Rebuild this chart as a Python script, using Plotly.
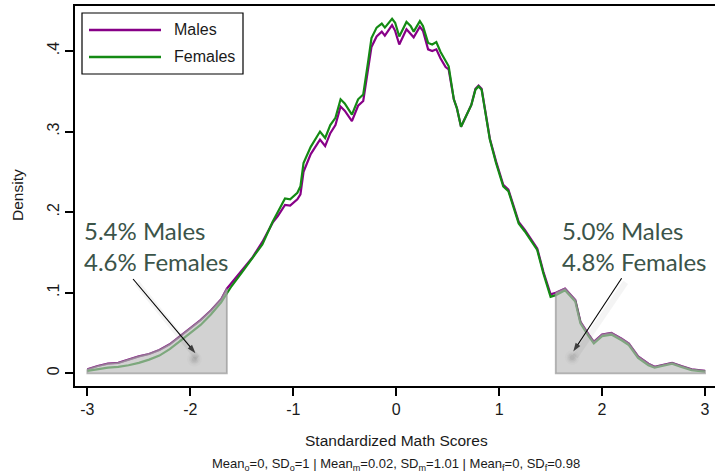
import plotly.graph_objects as go

# Kernel density of standardized math scores, by gender
score = [-3.0, -2.9, -2.8, -2.7, -2.6, -2.5, -2.4, -2.3, -2.2, -2.1,
         -2.0, -1.9, -1.8, -1.7, -1.645, -1.6, -1.5, -1.4, -1.3, -1.2,
         -1.15, -1.08, -1.03, -0.96, -0.93, -0.90, -0.83, -0.74, -0.69, -0.64,
         -0.59, -0.54, -0.50, -0.43, -0.37, -0.32, -0.27, -0.24, -0.19, -0.14,
         -0.11, -0.04, -0.01, 0.03, 0.10, 0.14, 0.17, 0.23, 0.26, 0.31,
         0.35, 0.39, 0.43, 0.48, 0.51, 0.56, 0.59, 0.63, 0.69, 0.73,
         0.77, 0.80, 0.83, 0.88, 0.91, 0.97, 1.04, 1.09, 1.14, 1.19,
         1.25, 1.30, 1.37, 1.43, 1.50, 1.55, 1.64, 1.74, 1.79, 1.87,
         1.92, 2.00, 2.09, 2.19, 2.26, 2.35, 2.45, 2.51, 2.68, 2.77,
         2.87, 3.00]

males = [0.005, 0.009, 0.012, 0.013, 0.017, 0.021, 0.024, 0.029, 0.036, 0.046,
         0.057, 0.066, 0.078, 0.092, 0.105, 0.112, 0.127, 0.143, 0.163, 0.187,
         0.195, 0.209, 0.208, 0.216, 0.222, 0.250, 0.272, 0.290, 0.282, 0.298,
         0.308, 0.331, 0.326, 0.313, 0.332, 0.338, 0.380, 0.405, 0.418, 0.424,
         0.419, 0.432, 0.425, 0.408, 0.427, 0.422, 0.417, 0.430, 0.425, 0.402,
         0.400, 0.402, 0.391, 0.380, 0.377, 0.340, 0.329, 0.306, 0.321, 0.333,
         0.353, 0.357, 0.353, 0.316, 0.291, 0.263, 0.234, 0.228, 0.209, 0.188,
         0.178, 0.168, 0.155, 0.126, 0.098, 0.100, 0.105, 0.091, 0.064, 0.048,
         0.039, 0.048, 0.050, 0.043, 0.037, 0.021, 0.012, 0.008, 0.013, 0.009,
         0.005, 0.003]

females = [0.003, 0.005, 0.007, 0.008, 0.010, 0.013, 0.017, 0.022, 0.030, 0.040,
           0.050, 0.060, 0.073, 0.088, 0.099, 0.108, 0.125, 0.143, 0.160, 0.188,
           0.200, 0.217, 0.216, 0.224, 0.232, 0.261, 0.281, 0.300, 0.292, 0.308,
           0.317, 0.340, 0.335, 0.321, 0.340, 0.346, 0.389, 0.416, 0.429, 0.434,
           0.429, 0.440, 0.435, 0.418, 0.436, 0.431, 0.424, 0.437, 0.431, 0.410,
           0.408, 0.411, 0.399, 0.387, 0.381, 0.340, 0.329, 0.306, 0.321, 0.333,
           0.352, 0.356, 0.352, 0.315, 0.290, 0.261, 0.232, 0.226, 0.207, 0.186,
           0.176, 0.166, 0.153, 0.124, 0.095, 0.097, 0.103, 0.089, 0.062, 0.046,
           0.037, 0.046, 0.048, 0.041, 0.035, 0.019, 0.010, 0.007, 0.012, 0.008,
           0.004, 0.002]

# Tail cut-offs and the shares of each group beyond them
low_cut = -1.645
high_cut = 1.55
low_label = ["5.4% Males", "4.6% Females"]
high_label = ["5.0% Males", "4.8% Females"]

x_ticks = [-3, -2, -1, 0, 1, 2, 3]
x_ticktext = ["-3", "-2", "-1", "0", "1", "2", "3"]
y_ticks = [0, 0.1, 0.2, 0.3, 0.4]
y_ticktext = ["0", ".1", ".2", ".3", ".4"]

series_names = ["Males", "Females"]
series_colors = ["rgb(135,0,135)", "rgb(20,138,20)"]

x_title = "Standardized Math Scores"
y_title = "Density"
note = ("Mean<sub>o</sub>=0, SD<sub>o</sub>=1 | Mean<sub>m</sub>=0.02, "
        "SD<sub>m</sub>=1.01 | Mean<sub>f</sub>=0, SD<sub>f</sub>=0.98")

W, H = 715, 475
ML, MR, MT, MB = 75, 0, 6, 89
X_RANGE = [-3.120, 3.097]
Y_RANGE = [-0.01576, 0.4558]


def px(xp):
    return (xp - ML) / (W - ML - MR)


def py(yp):
    return (H - MB - yp) / (H - MT - MB)


fig = go.Figure()

for name, ys, col in zip(series_names, [males, females], series_colors):
    fig.add_trace(go.Scatter(x=score, y=ys, mode="lines", name=name,
                             line=dict(color=col, width=2.2),
                             showlegend=False, hoverinfo="skip"))

# Shaded tails under the male density, drawn over the lines
lo = [(s, m) for s, m in zip(score, males) if s <= low_cut]
hi = [(s, m) for s, m in zip(score, males) if s >= high_cut]
for pts in (lo, hi):
    xs = [p[0] for p in pts]
    ys = [p[1] for p in pts]
    poly_x = xs + [xs[-1], xs[0], xs[0]]
    poly_y = ys + [0, 0, ys[0]]
    fig.add_trace(go.Scatter(x=poly_x, y=poly_y, mode="lines", fill="toself",
                             fillcolor="rgba(185,185,185,0.64)",
                             line=dict(color="rgba(150,150,150,0.7)", width=1.8),
                             showlegend=False, hoverinfo="skip"))

# Pointer arrows (tip, tail) with a soft drop shadow
DX = 1 / 102.95
DY = 1 / 805.75
arrows = [((-1.95, 0.0250), (-2.556, 0.117)), ((1.72, 0.0270), (2.19, 0.118))]
for (hx, hy), (tx, ty) in arrows:
    fig.add_trace(go.Scatter(x=[tx + 4 * DX, hx + 2 * DX], y=[ty - 4 * DY, hy - 5 * DY],
                             mode="lines", line=dict(color="rgba(0,0,0,0.045)", width=6),
                             showlegend=False, hoverinfo="skip"))
    fig.add_trace(go.Scatter(x=[hx - 1 * DX] * 4, y=[hy - 6 * DY] * 4,
                             mode="markers",
                             marker=dict(size=[15, 11, 8, 5],
                                         color=["rgba(0,0,0,0.025)", "rgba(0,0,0,0.04)",
                                                "rgba(0,0,0,0.06)", "rgba(0,0,0,0.08)"],
                                         line=dict(width=0)),
                             showlegend=False, hoverinfo="skip"))
    fig.add_trace(go.Scatter(x=[tx, hx], y=[ty, hy], mode="lines+markers",
                             line=dict(color="black", width=1.1),
                             marker=dict(symbol=["circle", "arrow"], size=[0, 9],
                                         angleref="previous", color="black",
                                         line=dict(width=0)),
                             showlegend=False, hoverinfo="skip"))

annotations = []
shapes = []

label_font = dict(family="Lato", size=24, color="#3b5449")
for lines, xpix in [(low_label, 82), (high_label, 560)]:
    annotations.append(dict(x=px(xpix), y=py(246), xref="paper", yref="paper",
                            text="<br>".join(lines), showarrow=False,
                            xanchor="left", yanchor="middle", align="left",
                            font=label_font))

axis_font = dict(family="Liberation Sans", color="#1a1a1a")
annotations.append(dict(x=px(396), y=py(440), xref="paper", yref="paper",
                        text=x_title, showarrow=False, xanchor="center",
                        yanchor="middle", font=dict(size=15.5, **axis_font)))
annotations.append(dict(x=px(17), y=py(195), xref="paper", yref="paper",
                        text=y_title, showarrow=False, textangle=-90,
                        xanchor="center", yanchor="middle",
                        font=dict(size=15.5, **axis_font)))
annotations.append(dict(x=px(396), y=py(464), xref="paper", yref="paper",
                        text=note, showarrow=False, xanchor="center",
                        yanchor="middle", font=dict(size=13, **axis_font)))

# Legend box
shapes.append(dict(type="rect", xref="paper", yref="paper",
                   x0=px(82), x1=px(243), y0=py(74), y1=py(13),
                   line=dict(color="black", width=1.2), fillcolor="white",
                   layer="above"))
for name, col, ypix in zip(series_names, series_colors, [30, 57]):
    shapes.append(dict(type="line", xref="paper", yref="paper",
                       x0=px(89), x1=px(161), y0=py(ypix), y1=py(ypix),
                       line=dict(color=col, width=2.4), layer="above"))
    annotations.append(dict(x=px(172), y=py(ypix), xref="paper", yref="paper",
                            text=name, showarrow=False, xanchor="left",
                            yanchor="middle", font=dict(size=16, **axis_font)))

fig.update_layout(
    width=W, height=H,
    margin=dict(l=ML, r=MR, t=MT, b=MB, pad=0),
    paper_bgcolor="white", plot_bgcolor="white",
    showlegend=False,
    annotations=annotations, shapes=shapes,
    xaxis=dict(range=X_RANGE, tickvals=x_ticks, ticktext=x_ticktext,
               ticks="outside", ticklen=8, tickwidth=1.5, tickcolor="black",
               showline=True, linewidth=2, linecolor="black", mirror=True,
               showgrid=False, zeroline=False,
               tickfont=dict(size=16, **axis_font)),
    yaxis=dict(range=Y_RANGE, tickvals=y_ticks, ticktext=y_ticktext,
               tickangle=-90,
               ticks="outside", ticklen=8, tickwidth=1.5, tickcolor="black",
               showline=True, linewidth=2, linecolor="black",
               showgrid=False, zeroline=False,
               tickfont=dict(size=16, **axis_font)),
)

fig.write_html("out.html")
